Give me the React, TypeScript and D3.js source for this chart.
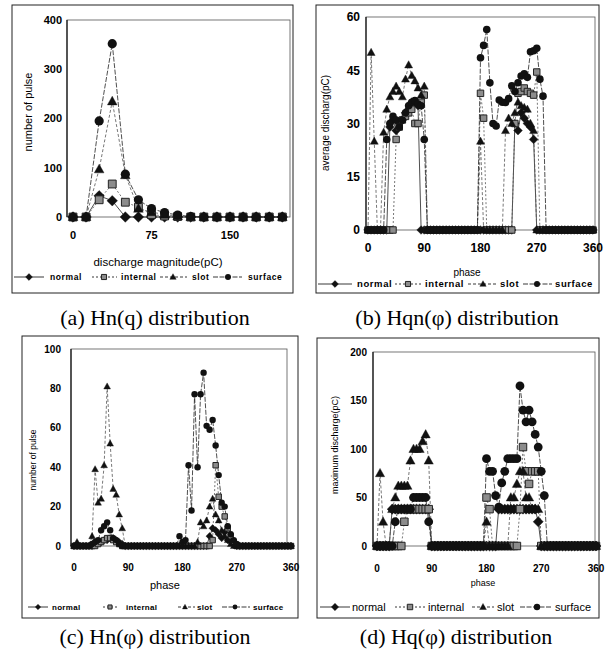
import React from "react";
import * as d3 from "d3";

// (a) Hn(q): number of pulse vs discharge magnitude
const magnitudes = [0, 12.5, 25, 37.5, 50, 62.5, 75, 87.5, 100, 112.5, 125, 137.5, 150, 162.5, 175, 187.5, 200];
const hnqNormal = [0, 0, 43, 33, 0, 0, 0, 0, 0, 0, 0, 0, 0, 0, 0, 0, 0];
const hnqInternal = [0, 0, 35, 67, 30, 20, 5, 2, 1, 0, 0, 0, 0, 0, 0, 0, 0];
const hnqSlot = [0, 0, 97, 235, 85, 17, 10, 5, 2, 0, 0, 0, 0, 0, 0, 0, 0];
const hnqSurface = [0, 0, 195, 352, 87, 35, 17, 9, 4, 1, 0, 0, 0, 0, 0, 0, 0];

// phase windows, 0..360 step 5
const phases = d3.range(0, 365, 5);

// (b) Hqn(phi): average discharge
const hqnNormal = [
  0, 0, 0, 0, 0, 0, 0, 29, 31, 28, 30, 31, 33, 34, 36, 36, 35, 0,
  0, 0, 0, 0, 0, 0, 0, 0, 0, 0, 0, 0, 0, 0, 0, 0, 0, 0,
  0, 0, 0, 0, 0, 0, 0, 0, 0, 0, 0, 30, 28, 33, 31.5, 30, 29, 25.5,
  0, 0, 0, 0, 0, 0, 0, 0, 0, 0, 0, 0, 0, 0, 0, 0, 0, 0,
  0,
];
const hqnInternal = [
  0, 0, 0, 0, 0, 0, 0, 0, 0, 25.5, 29, 31, 32, 33, 34, 30, 30, 36,
  38, 0, 0, 0, 0, 0, 0, 0, 0, 0, 0, 0, 0, 0, 0, 0, 0, 0,
  38.5, 31.5, 0, 0, 0, 0, 0, 0, 0, 0, 0, 30, 38.5, 39, 40, 39, 38.5, 38,
  44.5, 0, 0, 0, 0, 0, 0, 0, 0, 0, 0, 0, 0, 0, 0, 0, 0, 0,
  0,
];
const hqnSlot = [
  0, 50, 25, 0, 0, 27.5, 34, 37.5, 39, 40.5, 39, 37.5, 42.5, 46.5, 43.5, 42, 40, 38,
  40.5, 0, 0, 0, 0, 0, 0, 0, 0, 0, 0, 0, 0, 0, 0, 0, 0, 0,
  25, 0, 0, 0, 0, 0, 0, 0, 28, 31.5, 30, 33, 36, 35, 34.5, 34, 30, 28,
  0, 0, 0, 0, 0, 0, 0, 0, 0, 0, 0, 0, 0, 0, 0, 0, 0, 0,
  0,
];
const hqnSurface = [
  0, 0, 0, 0, 0, 0, 25.5, 30, 32, 31, 29, 31, 33, 35, 36, 36.5, 35.5, 35,
  25.5, 0, 0, 0, 0, 0, 0, 0, 0, 0, 0, 0, 0, 0, 0, 0, 0, 0,
  48.5, 52, 56.5, 41.5, 30, 29.3, 36.6, 36, 35.9, 37, 40.6, 39, 41.5, 43.4, 44, 43, 50.2, 50.5,
  51.2, 42.5, 37.7, 0, 0, 0, 0, 0, 0, 0, 0, 0, 0, 0, 0, 0, 0, 0,
  0,
];

// (c) Hn(phi): number of pulse
const hnNormal = [
  0, 0, 0, 0, 0, 0, 0, 1, 2, 2, 3, 3, 4, 4, 3, 2, 1, 0,
  0, 0, 0, 0, 0, 0, 0, 0, 0, 0, 0, 0, 0, 0, 0, 0, 0, 0,
  0, 0, 0, 0, 0, 0, 0, 0, 0, 5, 9, 8, 6, 4, 7, 3, 2, 1,
  0, 0, 0, 0, 0, 0, 0, 0, 0, 0, 0, 0, 0, 0, 0, 0, 0, 0,
  0,
];
const hnInternal = [
  0, 0, 0, 0, 0, 0, 0, 0, 1, 2, 3, 4, 4, 3, 2, 1, 0, 0,
  0, 0, 0, 0, 0, 0, 0, 0, 0, 0, 0, 0, 0, 0, 0, 0, 0, 0,
  0, 0, 0, 0, 0, 0, 0, 0, 0, 0, 3, 41, 25, 20, 15, 9, 5, 2,
  0, 0, 0, 0, 0, 0, 0, 0, 0, 0, 0, 0, 0, 0, 0, 0, 0, 0,
  0,
];
const hnSlot = [
  0, 2, 0, 0, 0, 0, 5, 39, 22, 24, 41, 81, 52, 29, 26, 16, 9, 0,
  0, 0, 0, 0, 0, 0, 0, 0, 0, 0, 0, 0, 0, 0, 0, 0, 0, 0,
  0, 0, 0, 0, 0, 2, 12, 10, 13, 20, 24, 16, 13, 8, 5, 3, 1, 0,
  0, 0, 0, 0, 0, 0, 0, 0, 0, 0, 0, 0, 0, 0, 0, 0, 0, 0,
  0,
];
const hnSurface = [
  0, 0, 0, 0, 0, 0, 1, 2, 3, 8, 10, 12, 8, 4, 3, 1, 0, 0,
  0, 0, 0, 0, 0, 0, 0, 0, 0, 0, 0, 0, 0, 0, 0, 0, 0, 5,
  2, 3, 41, 18, 77, 40, 77, 88, 61, 59, 64, 51, 36, 22, 20, 10, 6, 3,
  1, 0, 0, 0, 0, 0, 0, 0, 0, 0, 0, 0, 0, 0, 0, 0, 0, 0,
  0,
];

// (d) Hq(phi): maximum discharge
const hqNormal = [
  0, 0, 0, 0, 0, 38, 38, 38, 38, 38, 38, 38, 38, 38, 38, 38, 38, 38,
  0, 0, 0, 0, 0, 0, 0, 0, 0, 0, 0, 0, 0, 0, 0, 0, 0, 0,
  0, 0, 0, 0, 38, 38, 38, 38, 38, 38, 38, 38, 38, 38, 38, 38, 38, 25,
  0, 0, 0, 0, 0, 0, 0, 0, 0, 0, 0, 0, 0, 0, 0, 0, 0, 0,
  0,
];
const hqInternal = [
  0, 0, 0, 0, 0, 0, 0, 0, 0, 25, 38, 38, 38, 38, 38, 38, 38, 38,
  0, 0, 0, 0, 0, 0, 0, 0, 0, 0, 0, 0, 0, 0, 0, 0, 0, 0,
  50, 38, 0, 0, 0, 0, 0, 0, 0, 0, 0, 38, 102, 77, 64, 77, 77, 77,
  0, 0, 0, 0, 0, 0, 0, 0, 0, 0, 0, 0, 0, 0, 0, 0, 0, 0,
  0,
];
const hqSlot = [
  0, 75, 25, 0, 0, 38, 50, 62, 62, 62, 62, 88, 100, 100, 100, 108, 115, 88,
  0, 0, 0, 0, 0, 0, 0, 0, 0, 0, 0, 0, 0, 0, 0, 0, 0, 0,
  25, 0, 0, 0, 0, 0, 0, 0, 50, 50, 64, 77, 77, 50, 50, 38, 38, 38,
  0, 0, 0, 0, 0, 0, 0, 0, 0, 0, 0, 0, 0, 0, 0, 0, 0, 0,
  0,
];
const hqSurface = [
  0, 0, 0, 0, 0, 0, 25, 38, 38, 38, 38, 38, 50, 50, 50, 50, 50, 25,
  0, 0, 0, 0, 0, 0, 0, 0, 0, 0, 0, 0, 0, 0, 0, 0, 0, 0,
  90, 77, 77, 52, 40, 65, 77, 90, 90, 90, 90, 165, 140, 128, 140, 128, 115, 102,
  77, 52, 0, 0, 0, 0, 0, 0, 0, 0, 0, 0, 0, 0, 0, 0, 0, 0,
  0,
];

const seriesNames = ["normal", "internal", "slot", "surface"];
const SANS = "'Liberation Sans', Arial, Helvetica, sans-serif";
const SERIF = "'Liberation Serif', 'Times New Roman', serif";

const styles = [
  { kind: "diamond", dash: undefined, fill: "#111", stroke: "#111", line: "#222" },
  { kind: "square", dash: "2,2", fill: "#8c8c8c", stroke: "#222", line: "#555" },
  { kind: "triangle", dash: "3,2", fill: "#111", stroke: "#111", line: "#555" },
  { kind: "circle", dash: "5,1.5", fill: "#111", stroke: "#111", line: "#222" },
];

function Marker({ kind, x, y, r, fill, stroke }: any) {
  if (kind === "circle") return <circle cx={x} cy={y} r={r} fill={fill} />;
  let d = "";
  if (kind === "diamond") {
    const s = r * 1.15;
    d = `M${x},${y - s}L${x + s},${y}L${x},${y + s}L${x - s},${y}Z`;
  } else if (kind === "square") {
    const s = r * 0.85;
    d = `M${x - s},${y - s}H${x + s}V${y + s}H${x - s}Z`;
  } else {
    const s = r * 1.05;
    d = `M${x},${y - s * 1.05}L${x + s},${y + s * 0.75}L${x - s},${y + s * 0.75}Z`;
  }
  return <path d={d} fill={fill} stroke={stroke} strokeWidth={kind === "square" ? 1 : 0.4} />;
}

function Panel({ cfg }: any) {
  const { box, frame, xAxis, yAxis, xs, series, r } = cfg;
  const x = d3.scaleLinear().domain(xAxis.domain).range(xAxis.range);
  const y = d3.scaleLinear().domain(yAxis.domain).range([frame.b, frame.t]);
  const line = d3
    .line<number>()
    .x((_, i) => x(xs[i]))
    .y((v) => y(v));

  return (
    <g>
      <rect x={box[0]} y={box[1]} width={box[2] - box[0]} height={box[3] - box[1]} fill="none" stroke="#222" strokeWidth={1} />
      <rect x={frame.l} y={frame.t} width={frame.r - frame.l} height={frame.b - frame.t} fill="none" stroke="#555" strokeWidth={0.8} />
      <line x1={frame.l} x2={frame.l} y1={frame.t} y2={frame.b} stroke="#111" strokeWidth={1.2} />

      {yAxis.ticks.map((t: number) => (
        <text key={"y" + t} x={yAxis.labelX} y={y(t)} dy="0.36em" textAnchor="end" fontFamily={SANS} fontWeight="bold" fontSize={yAxis.font}>
          {t}
        </text>
      ))}
      {xAxis.ticks.map((t: number) => (
        <text key={"x" + t} x={x(t)} y={xAxis.labelY} dy="0.36em" textAnchor="middle" fontFamily={SANS} fontWeight="bold" fontSize={xAxis.font}>
          {t}
        </text>
      ))}

      {series.map((vals: number[], si: number) => (
        <path key={"l" + si} d={line(vals) || ""} fill="none" stroke={styles[si].line} strokeWidth={0.8} strokeDasharray={styles[si].dash} />
      ))}
      {series.map((vals: number[], si: number) => (
        <g key={"m" + si}>
          {vals.map((v, i) => (
            <Marker key={i} kind={styles[si].kind} x={x(xs[i])} y={y(v)} r={r} fill={styles[si].fill} stroke={styles[si].stroke} />
          ))}
        </g>
      ))}

      <text x={cfg.xTitle.x} y={cfg.xTitle.y} dy="0.36em" textAnchor="middle" fontFamily={SANS} fontSize={cfg.xTitle.size}>
        {cfg.xTitle.text}
      </text>
      <text
        transform={`translate(${cfg.yTitle.x},${cfg.yTitle.y}) rotate(-90)`}
        dy="0.36em"
        textAnchor="middle"
        fontFamily={SANS}
        fontSize={cfg.yTitle.size}
      >
        {cfg.yTitle.text}
      </text>

      {cfg.legend.items.map((it: any, si: number) => (
        <g key={"lg" + si}>
          <line x1={it.line[0]} x2={it.line[1]} y1={cfg.legend.y} y2={cfg.legend.y} stroke="#222" strokeWidth={0.9} strokeDasharray={styles[si].dash} />
          <Marker kind={styles[si].kind} x={it.mark} y={cfg.legend.y} r={cfg.legend.r} fill={styles[si].fill} stroke={styles[si].stroke} />
          <text
            x={it.text}
            y={cfg.legend.y}
            dy="0.36em"
            fontFamily={SANS}
            fontSize={cfg.legend.size}
            fontWeight={cfg.legend.bold ? "bold" : "normal"}
            letterSpacing={cfg.legend.spacing}
          >
            {seriesNames[si]}
          </text>
        </g>
      ))}

      <text x={cfg.caption.x} y={cfg.caption.y} textAnchor="middle" fontFamily={SERIF} fontSize={22}>
        {cfg.caption.text}
      </text>
    </g>
  );
}

const panels = [
  {
    box: [12, 5, 293, 293],
    frame: { l: 67, t: 20, r: 290, b: 217 },
    xAxis: { domain: [0, 150], range: [73, 230], ticks: [0, 75, 150], labelY: 235, font: 11 },
    yAxis: { domain: [0, 400], ticks: [0, 100, 200, 300, 400], labelX: 62, font: 11 },
    xs: magnitudes,
    series: [hnqNormal, hnqInternal, hnqSlot, hnqSurface],
    r: 4.6,
    xTitle: { text: "discharge magnitude(pC)", x: 158, y: 262, size: 11.5 },
    yTitle: { text: "number of pulse", x: 28, y: 112, size: 11 },
    legend: {
      y: 277, size: 8.5, bold: true, spacing: 0.6, r: 3,
      items: [
        { line: [14, 44], mark: 29, text: 50 },
        { line: [92, 117], mark: 104, text: 121 },
        { line: [160, 187], mark: 173, text: 192 },
        { line: [213, 242], mark: 228, text: 248 },
      ],
    },
    caption: { text: "(a) Hn(q) distribution", x: 155, y: 325 },
  },
  {
    box: [316, 5, 599, 293],
    frame: { l: 366, t: 17, r: 595, b: 230 },
    xAxis: { domain: [0, 360], range: [368, 593], ticks: [0, 90, 180, 270, 360], labelY: 248, font: 12 },
    yAxis: { domain: [0, 60], ticks: [0, 15, 30, 45, 60], labelX: 360, font: 12 },
    xs: phases,
    series: [hqnNormal, hqnInternal, hqnSlot, hqnSurface],
    r: 3.8,
    xTitle: { text: "phase", x: 467, y: 272, size: 10 },
    yTitle: { text: "average discharg(pC)", x: 325, y: 123, size: 10 },
    legend: {
      y: 284, size: 9.5, bold: true, spacing: 0.6, r: 3,
      items: [
        { line: [318, 352], mark: 335, text: 357 },
        { line: [395, 422], mark: 408, text: 425 },
        { line: [468, 498], mark: 483, text: 500 },
        { line: [523, 552], mark: 537, text: 555 },
      ],
    },
    caption: { text: "(b) Hqn(\u03c6) distribution", x: 457, y: 325 },
  },
  {
    box: [22, 336, 298, 618],
    frame: { l: 71, t: 349, r: 287, b: 546 },
    xAxis: { domain: [0, 360], range: [74, 291], ticks: [0, 90, 180, 270, 360], labelY: 567, font: 10 },
    yAxis: { domain: [0, 100], ticks: [0, 20, 40, 60, 80, 100], labelX: 61, font: 10 },
    xs: phases,
    series: [hnNormal, hnInternal, hnSlot, hnSurface],
    r: 3.2,
    xTitle: { text: "phase", x: 165, y: 585, size: 11 },
    yTitle: { text: "number of pulse", x: 33, y: 460, size: 8.5 },
    legend: {
      y: 607, size: 8, bold: true, spacing: 0.3, r: 2.4,
      items: [
        { line: [28, 48], mark: 38, text: 52 },
        { line: [103, 117], mark: 110, text: 126 },
        { line: [178, 195], mark: 185, text: 197 },
        { line: [222, 250], mark: 235, text: 253 },
      ],
    },
    caption: { text: "(c) Hn(\u03c6) distribution", x: 155, y: 644 },
  },
  {
    box: [317, 338, 599, 618],
    frame: { l: 373, t: 352, r: 595, b: 546 },
    xAxis: { domain: [0, 360], range: [377, 596], ticks: [0, 90, 180, 270, 360], labelY: 568, font: 10 },
    yAxis: { domain: [0, 200], ticks: [0, 50, 100, 150, 200], labelX: 367, font: 10 },
    xs: phases,
    series: [hqNormal, hqInternal, hqSlot, hqSurface],
    r: 4.4,
    xTitle: { text: "phase", x: 483, y: 583, size: 9 },
    yTitle: { text: "maximum discharge(pC)", x: 335, y: 445, size: 9 },
    legend: {
      y: 607, size: 11, bold: false, spacing: 0, r: 3.2,
      items: [
        { line: [320, 350], mark: 335, text: 352 },
        { line: [395, 426], mark: 410, text: 428 },
        { line: [472, 494], mark: 483, text: 497 },
        { line: [520, 552], mark: 537, text: 555 },
      ],
    },
    caption: { text: "(d) Hq(\u03c6) distribution", x: 456, y: 644 },
  },
];

export default function App() {
  return (
    <svg width={609} height={656} style={{ position: "absolute", left: 0, top: 0, background: "#fff" }}>
      <rect width={609} height={656} fill="#fff" />
      {panels.map((p, i) => (
        <Panel key={i} cfg={p} />
      ))}
    </svg>
  );
}
